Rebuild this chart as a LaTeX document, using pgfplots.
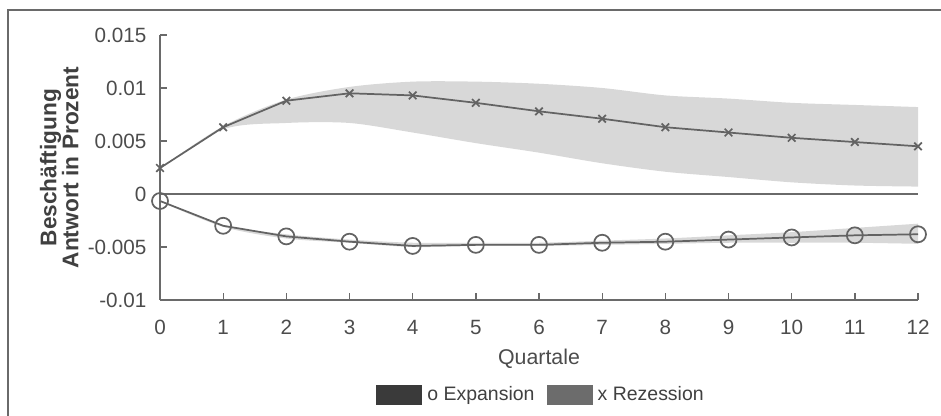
\documentclass[border=0pt]{standalone}
\usepackage{pgfplots}
\pgfplotsset{compat=1.18}
\usepgfplotslibrary{fillbetween}
\usepackage{fontspec}
\setmainfont{Liberation Sans}
\definecolor{band}{HTML}{D8D8D8}
\definecolor{linec}{HTML}{636363}
\definecolor{axc}{HTML}{6A6A6A}
\definecolor{txt}{HTML}{4C4C4C}
\definecolor{expc}{HTML}{3A3A3A}
\definecolor{rezc}{HTML}{6C6C6C}

\pgfplotstableread{
x  rez     rezU    rezL
0  0.00245 0.00245 0.00245
1  0.0063  0.0064  0.0061
2  0.0088  0.0089  0.0067
3  0.0095  0.0101  0.0067
4  0.0093  0.0106  0.0058
5  0.0086  0.0106  0.0048
6  0.0078  0.0104  0.0039
7  0.0071  0.0100  0.0029
8  0.0063  0.0093  0.0021
9  0.0058  0.0090  0.0016
10 0.0053  0.0086  0.0011
11 0.0049  0.0084  0.0008
12 0.0045  0.0082  0.0007
}\rez

\pgfplotstableread{
x  exp      expU     expL
0  -0.00066 -0.0006  -0.0007
1  -0.0030  -0.0029  -0.0031
2  -0.0040  -0.0038  -0.0042
3  -0.0045  -0.0043  -0.0046
4  -0.0049  -0.0046  -0.0050
5  -0.0048  -0.0046  -0.0049
6  -0.0048  -0.0046  -0.0049
7  -0.0046  -0.0044  -0.0048
8  -0.0045  -0.0042  -0.0047
9  -0.0043  -0.0039  -0.0046
10 -0.0041  -0.0036  -0.0046
11 -0.0039  -0.0032  -0.0046
12 -0.0038  -0.0028  -0.0047
}\expa

\begin{document}
\begin{tikzpicture}
\begin{axis}[
  at={(0,0)}, anchor=south west,
  scale only axis, width=568.5pt, height=198.75pt,
  xmin=0, xmax=12, ymin=-0.01, ymax=0.015,
  clip=false,
  /pgf/number format/assume math mode=true,
  axis x line=bottom, axis y line=left,
  axis line style={axc, line width=1.3pt, -},
  xtick={0,...,12},
  ytick={-0.01,-0.005,0,0.005,0.01,0.015},
  yticklabels={-0.01,-0.005,0,0.005,0.01,0.015},
  scaled y ticks=false,
  tick align=inside, major tick length=5pt,
  tick style={axc, line width=1pt},
  ticklabel style={font=\fontsize{15.5}{18}\selectfont, text=txt},
  yticklabel style={inner sep=0pt, anchor=east, xshift=-10pt},
  xticklabel style={inner sep=0pt, anchor=north, yshift=-15pt},
  xlabel={Quartale},
  xlabel style={at={(axis description cs:0.5,0)}, anchor=center, yshift=-44pt,
    font=\fontsize{16}{19}\selectfont, text=txt},
  ylabel={Beschäftigung\\Antwort in Prozent},
  ylabel style={at={(axis description cs:-0.133,0.5)}, anchor=center, align=center,
    font=\bfseries\fontsize{17}{16.5}\selectfont, text=black!75},
  legend style={at={(axis description cs:0.503,-0.358)}, anchor=center,
    draw=none, fill=none, legend columns=-1,
    font=\fontsize{14.6}{17}\selectfont, text=black!75},
]
\addplot[name path=rU, draw=none, smooth, forget plot] table[x=x, y=rezU] {\rez};
\addplot[name path=rL, draw=none, smooth, forget plot] table[x=x, y=rezL] {\rez};
\addplot[band, forget plot] fill between[of=rU and rL];
\addplot[name path=eU, draw=none, smooth, forget plot] table[x=x, y=expU] {\expa};
\addplot[name path=eL, draw=none, smooth, forget plot] table[x=x, y=expL] {\expa};
\addplot[band, forget plot] fill between[of=eU and eL];
\addplot[axc, line width=1.3pt, forget plot] coordinates {(0,0) (12,0)};
\addplot[linec, line width=1.3pt, mark=x, mark size=4pt, forget plot] table[x=x, y=rez] {\rez};
\addplot[linec, line width=1.3pt, mark=o, mark size=6pt, forget plot] table[x=x, y=exp] {\expa};
\addlegendimage{legend image code/.code={\fill[expc] (0pt,-7pt) rectangle (34pt,7pt);}}
\addlegendentry{\kern2pt o Expansion\kern7pt}
\addlegendimage{legend image code/.code={\fill[rezc] (0pt,-7pt) rectangle (34pt,7pt);}}
\addlegendentry{\kern2pt x Rezession}
\end{axis}
\draw[axc, line width=1.5pt] (-114pt,-87pt) -- (-114pt,217.5pt) -- (585.75pt,217.5pt);
\pgfresetboundingbox
\useasboundingbox (-120pt,-87pt) rectangle (585.75pt,225pt);
\end{tikzpicture}
\end{document}
